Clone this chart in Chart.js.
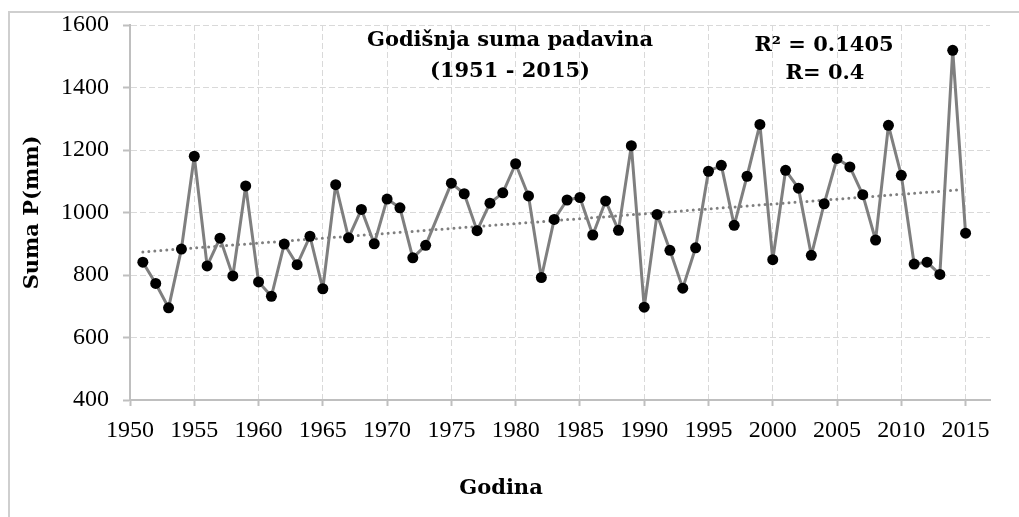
<!DOCTYPE html>
<html>
<head>
<meta charset="utf-8">
<script src="https://cdn.jsdelivr.net/npm/chart.js@4.4.1/dist/chart.umd.min.js"></script>
<style>
  html, body { margin: 0; padding: 0; background: #fff; }
  #wrap { position: relative; width: 1019px; height: 517px; overflow: hidden; }
  #frame { position: absolute; left: 8px; top: 11px; width: 1100px; height: 600px;
           border-top: 2px solid #cfcfcf; border-left: 2px solid #cfcfcf; }
  canvas { position: absolute; left: 0; top: 0; }
</style>
</head>
<body>
<div id="wrap">
  <div id="frame"></div>
  <canvas id="chart" width="1019" height="517"></canvas>
</div>
<script>
// Godišnja suma padavina (mm), 1951 - 2015 (1974 nema podatka)
const years = [
  1951, 1952, 1953, 1954, 1955, 1956, 1957, 1958, 1959, 1960,
  1961, 1962, 1963, 1964, 1965, 1966, 1967, 1968, 1969, 1970,
  1971, 1972, 1973, 1974, 1975, 1976, 1977, 1978, 1979, 1980,
  1981, 1982, 1983, 1984, 1985, 1986, 1987, 1988, 1989, 1990,
  1991, 1992, 1993, 1994, 1995, 1996, 1997, 1998, 1999, 2000,
  2001, 2002, 2003, 2004, 2005, 2006, 2007, 2008, 2009, 2010,
  2011, 2012, 2013, 2014, 2015
];
const precip = [
  841, 773, 695, 883, 1180, 829, 918, 797, 1085, 778,
  732, 899, 833, 924, 756, 1089, 919, 1010, 900, 1043,
  1015, 855, 895, null, 1094, 1060, 942, 1030, 1063, 1156,
  1053, 792, 978, 1040, 1048, 928, 1037, 943, 1214, 697,
  994, 879, 758, 887, 1132, 1151, 959, 1116, 1282, 849,
  1135, 1078, 863, 1028, 1173, 1146, 1057, 912, 1279, 1119,
  835, 841, 802, 1519, 934
];
// linija trenda (krajnje tačke očitane sa grafika)
const trendYears = [1951, 2015];
const trendValues = [874, 1074];

const xTicks = [1950, 1955, 1960, 1965, 1970, 1975, 1980, 1985, 1990, 1995, 2000, 2005, 2010, 2015];
const yTicks = [400, 600, 800, 1000, 1200, 1400, 1600];

const titleLines = ['Godišnja suma padavina', '(1951 - 2015)'];
const statLines = ['R² = 0.1405', 'R= 0.4'];
const xTitle = 'Godina';
const yTitle = 'Suma P(mm)';

const boldFont = '"DejaVu Serif", serif';
const tickFont = { family: '"Liberation Serif", serif', size: 24 };

const textPlugin = {
  id: 'labels',
  afterDraw(chart) {
    const ctx = chart.ctx;
    ctx.save();
    ctx.fillStyle = '#000';
    ctx.textAlign = 'center';
    ctx.textBaseline = 'middle';
    ctx.font = 'bold 21px ' + boldFont;
    ctx.fillText(titleLines[0], 510, 41);
    ctx.fillText(titleLines[1], 510, 72);
    ctx.fillText(statLines[0], 824, 46);
    ctx.fillText(statLines[1], 825, 74);
    ctx.fillText(xTitle, 501, 489);
    ctx.restore();
  }
};

new Chart(document.getElementById('chart'), {
  type: 'scatter',
  data: {
    datasets: [
      {
        label: 'Suma P',
        data: years.map((y, i) => ({ x: y, y: precip[i] })),
        showLine: true,
        spanGaps: true,
        borderColor: '#7f7f7f',
        borderWidth: 3,
        borderJoinStyle: 'round',
        pointRadius: 5.5,
        pointHoverRadius: 5.5,
        pointBackgroundColor: '#000',
        pointBorderWidth: 0,
        order: 1
      },
      {
        label: 'Trend',
        data: trendYears.map((y, i) => ({ x: y, y: trendValues[i] })),
        showLine: true,
        borderColor: '#7f7f7f',
        borderWidth: 3,
        borderDash: [0, 6],
        borderCapStyle: 'round',
        pointRadius: 0,
        order: 2
      }
    ]
  },
  options: {
    responsive: false,
    animation: false,
    layout: { padding: { left: 10, right: 29, top: 25, bottom: 0 } },
    plugins: {
      legend: { display: false },
      tooltip: { enabled: false }
    },
    scales: {
      x: {
        type: 'linear',
        min: 1950,
        max: 2016.9,
        afterBuildTicks: s => { s.ticks = xTicks.map(v => ({ value: v })); },
        afterFit: s => { s.height = 117; s.paddingLeft = 0; s.paddingRight = 0; },
        ticks: { font: tickFont, color: '#000', padding: 10, maxRotation: 0, callback: v => String(v) },
        grid: { color: '#d9d9d9', lineWidth: 1, tickLength: 6, tickColor: '#bfbfbf', tickWidth: 2 },
        border: { color: '#bfbfbf', width: 2, dash: [6, 3] }
      },
      y: {
        min: 400,
        max: 1600,
        afterBuildTicks: s => { s.ticks = yTicks.map(v => ({ value: v })); },
        afterFit: s => { s.width = 120; s.paddingTop = 0; s.paddingBottom = 0; },
        ticks: { font: tickFont, color: '#000', padding: 14, callback: v => String(v) },
        grid: { color: '#d9d9d9', lineWidth: 1, tickLength: 7, tickColor: '#bfbfbf', tickWidth: 2 },
        border: { color: '#bfbfbf', width: 2, dash: [6, 3] },
        title: {
          display: true,
          text: yTitle,
          color: '#000',
          font: { family: boldFont, size: 21, weight: 'bold' },
          padding: { top: 10, bottom: 0 }
        }
      }
    }
  },
  plugins: [textPlugin]
});
</script>
</body>
</html>
